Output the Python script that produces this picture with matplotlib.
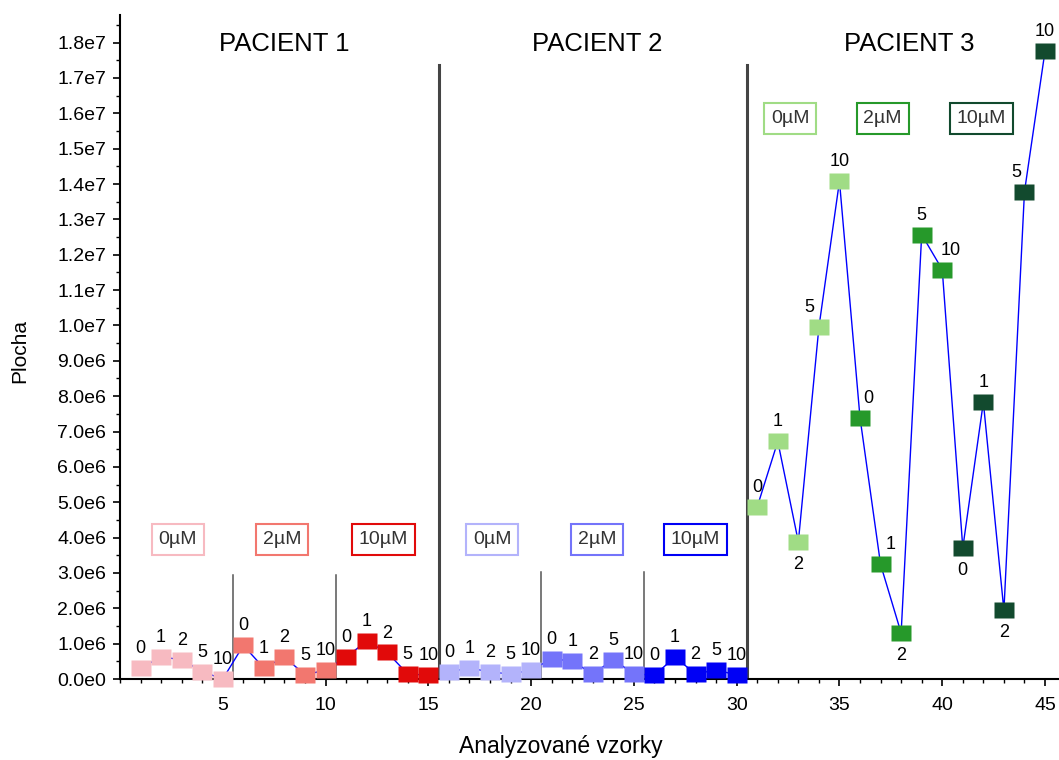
import numpy as np
import matplotlib
matplotlib.use('Agg')
import matplotlib.pyplot as plt
from matplotlib.path import Path
from matplotlib.ticker import FuncFormatter, MultipleLocator

plt.rcParams['font.family'] = ['Liberation Sans', 'DejaVu Sans']

# --- data (values in units of 1e6) ---
samples = np.arange(1, 46)
pacient1 = [0.31, 0.62, 0.55, 0.21, 0.00,
            0.95, 0.31, 0.62, 0.12, 0.25,
            0.62, 1.07, 0.75, 0.14, 0.11]
pacient2 = [0.20, 0.31, 0.20, 0.14, 0.25,
            0.57, 0.51, 0.14, 0.55, 0.14,
            0.11, 0.62, 0.14, 0.26, 0.11]
pacient3 = [4.87, 6.72, 3.88, 9.95, 14.08,
            7.39, 3.24, 1.30, 12.57, 11.58,
            3.71, 7.83, 1.94, 13.78, 17.76]
point_labels = ['0', '1', '2', '5', '10'] * 9
pacient_names = ['PACIENT 1', 'PACIENT 2', 'PACIENT 3']
conc_names = ['0µM', '2µM', '10µM'] * 3

values = np.array(pacient1 + pacient2 + pacient3) * 1e6

group_colors = ['#f7bac1', '#f2776f', '#e10a0a',
                '#b3b3fb', '#7474fa', '#0000f5',
                '#a0dc85', '#26992a', '#124a2e']

# text placement
pacient_x = [8.0, 23.2, 38.4]
box_x = [2.8, 7.9, 12.8, 18.1, 23.2, 28.0, 32.6, 37.1, 41.9]
box_y = [3.95e6] * 6 + [15.86e6] * 3
below = {33, 38, 41, 43}
shift_x = {34: -7, 36: 6, 37: 7, 40: 6, 44: -6}

fig = plt.figure(figsize=(10.59, 7.6), dpi=100)
ax = fig.add_axes([120/1059, 1 - 679/760, 1 - 120/1059, (679 - 15)/760])

# rectangular marker
rect = Path([(-1, -0.74), (1, -0.74), (1, 0.74), (-1, 0.74), (-1, -0.74)],
            [Path.MOVETO, Path.LINETO, Path.LINETO, Path.LINETO, Path.CLOSEPOLY])

# one connecting line per patient
for p in range(3):
    sl = slice(p*15, p*15 + 15)
    ax.plot(samples[sl], values[sl], color='#0000ff', lw=1, zorder=2, clip_on=False)
for g in range(9):
    sl = slice(g*5, g*5 + 5)
    ax.plot(samples[sl], values[sl], ls='none', marker=rect, ms=14.6,
            mfc=group_colors[g], mec='none', zorder=3, clip_on=False)

for i, (x, v) in enumerate(zip(samples, values)):
    dy = -16 if x in below else 14
    dx = shift_x.get(x, 0)
    ax.annotate(point_labels[i], (x, v), xytext=(dx, dy), textcoords='offset points',
                ha='center', va='center', fontsize=13, color='black', zorder=4,
                annotation_clip=False)

# separators
for xs in [5.5, 10.5]:
    ax.plot([xs, xs], [0, 2.94e6], color='#555555', lw=1.1, zorder=1)
for xs in [20.5, 25.5]:
    ax.plot([xs, xs], [0, 3.03e6], color='#555555', lw=1.1, zorder=1)
for xs in [15.5, 30.5]:
    ax.plot([xs, xs], [0, 17.37e6], color='#444444', lw=2.2, zorder=1)

# titles
for name, px in zip(pacient_names, pacient_x):
    ax.text(px, 17.95e6, name, ha='center', va='center', fontsize=18.5, color='black')

for name, bx, by, c in zip(conc_names, box_x, box_y, group_colors):
    ax.text(bx, by, name, ha='center', va='center', fontsize=14, color='#333333',
            bbox=dict(boxstyle='square,pad=0.35', fc='white', ec=c, lw=1.5))

ax.set_xlim(0, 45.68)
ax.set_ylim(0, 18.78e6)

def sci(v, pos):
    if abs(v) < 1:
        return '0.0e0'
    e = int(np.floor(np.log10(abs(v)) + 1e-9))
    return '%.1fe%d' % (v / 10**e, e)

ax.yaxis.set_major_locator(MultipleLocator(1e6))
ax.yaxis.set_minor_locator(MultipleLocator(0.5e6))
ax.yaxis.set_major_formatter(FuncFormatter(sci))
ax.xaxis.set_major_locator(MultipleLocator(5))
ax.xaxis.set_minor_locator(MultipleLocator(1))
ax.set_xticks([5, 10, 15, 20, 25, 30, 35, 40, 45])

ax.spines['top'].set_visible(False)
ax.spines['right'].set_visible(False)
ax.spines['left'].set_linewidth(1.5)
ax.spines['bottom'].set_linewidth(1.5)
ax.tick_params(axis='both', which='major', direction='out', length=5, width=1.2,
               labelsize=14, pad=5)
ax.tick_params(axis='both', which='minor', direction='out', length=3, width=1)
ax.tick_params(axis='x', which='major', pad=8)

fig.text(20/1059, 1 - 351/760, 'Plocha', rotation=90, ha='center', va='center', fontsize=15)
fig.text(561/1059, 1 - 753/760, 'Analyzované vzorky', ha='center', va='baseline', fontsize=16.5)

fig.savefig('out.png', dpi=100)
